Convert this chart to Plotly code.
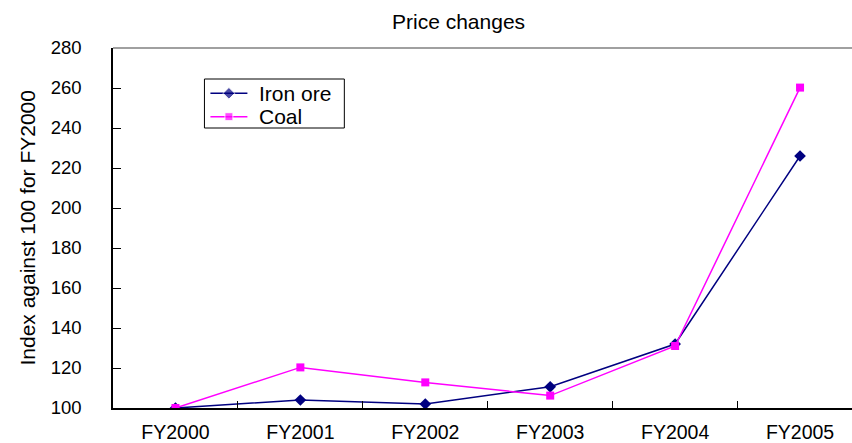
import plotly.graph_objects as go

# Fiscal years and price indices (FY2000 = 100)
years = ["FY2000", "FY2001", "FY2002", "FY2003", "FY2004", "FY2005"]
iron_ore = [100, 104, 102, 110.6, 132, 226]
coal = [100, 120.3, 112.8, 106.2, 131, 260.2]
y_ticks = [100, 120, 140, 160, 180, 200, 220, 240, 260, 280]

series = [
    dict(name="Iron ore", values=iron_ore, color="#000080", symbol="diamond", size=9),
    dict(name="Coal", values=coal, color="#FF00FF", symbol="square", size=8),
]

W, H = 852, 443
L, R, T, B = 112.5, 0, 48, 35
pw = W - L - R
ph = H - T - B

font_family = "Liberation Sans, Arial, sans-serif"

fig = go.Figure()
for s in series:
    fig.add_trace(go.Scatter(
        x=years, y=s["values"], name=s["name"], mode="lines+markers",
        line=dict(color=s["color"], width=1.5),
        marker=dict(symbol=s["symbol"], size=s["size"], color=s["color"]),
        showlegend=False,
    ))

# Boxed key drawn on a hidden pixel-scaled overlay axis
legend_box = dict(x0=204, x1=344, y0=79, y1=128)
row_y = [93.3, 116.7]
sample_x = [210, 228.5, 247]
annotations = []
for s, ry in zip(series, row_y):
    fig.add_trace(go.Scatter(
        x=sample_x, y=[ry] * 3, xaxis="x2", yaxis="y2",
        mode="lines+markers", showlegend=False, hoverinfo="skip",
        line=dict(color=s["color"], width=1.5),
        marker=dict(symbol=s["symbol"], size=[0, s["size"], 0], color=s["color"]),
    ))
    annotations.append(dict(
        text=s["name"], xref="x2", yref="y2", x=257, y=ry,
        xanchor="left", yanchor="middle", showarrow=False,
        font=dict(size=21),
    ))

annotations += [
    dict(
        text="Price changes", xref="paper", yref="paper",
        x=(458 - L) / pw, y=1 + (T - 21) / ph,
        xanchor="center", yanchor="middle", showarrow=False,
        font=dict(size=21),
    ),
    dict(
        text="Index against 100 for FY2000", xref="paper", yref="paper",
        x=(26.5 - L) / pw, y=1 - (227.5 - T) / ph,
        xanchor="center", yanchor="middle", showarrow=False,
        textangle=-90, font=dict(size=21),
    ),
]

fig.update_layout(
    width=W, height=H,
    margin=dict(l=L, r=R, t=T, b=B, pad=0),
    paper_bgcolor="white", plot_bgcolor="white",
    font=dict(family=font_family, size=20, color="black"),
    showlegend=False,
    xaxis=dict(
        type="category", range=[-0.5, 5.5 - (862.5 - W) / 125],
        showline=True, linecolor="black", linewidth=1.5,
        ticks="inside", ticklen=7, tickcolor="black", tickwidth=1,
        tickson="boundaries", showgrid=False, zeroline=False,
        tickfont=dict(size=19.5), automargin=False,
        ticklabelstandoff=6, fixedrange=True,
    ),
    yaxis=dict(
        range=[100, 280], tickvals=y_ticks,
        showline=True, linecolor="black", linewidth=1.5,
        ticks="inside", ticklen=8, tickcolor="black", tickwidth=1,
        showgrid=False, zeroline=False, automargin=False,
        tickfont=dict(size=18.5),
        ticklabelstandoff=26, fixedrange=True,
    ),
    xaxis2=dict(
        overlaying="x", range=[L, W - R], visible=False, fixedrange=True,
    ),
    yaxis2=dict(
        overlaying="y", range=[H - B, T], visible=False, fixedrange=True,
    ),
    shapes=[
        dict(
            type="line", xref="paper", yref="paper",
            x0=0, x1=1, y0=1, y1=1,
            line=dict(color="#808080", width=1.5),
        ),
        dict(
            type="rect", xref="x2", yref="y2", **legend_box,
            line=dict(color="black", width=1), fillcolor="rgba(0,0,0,0)",
        ),
    ],
    annotations=annotations,
)

fig.write_html("out.html")
